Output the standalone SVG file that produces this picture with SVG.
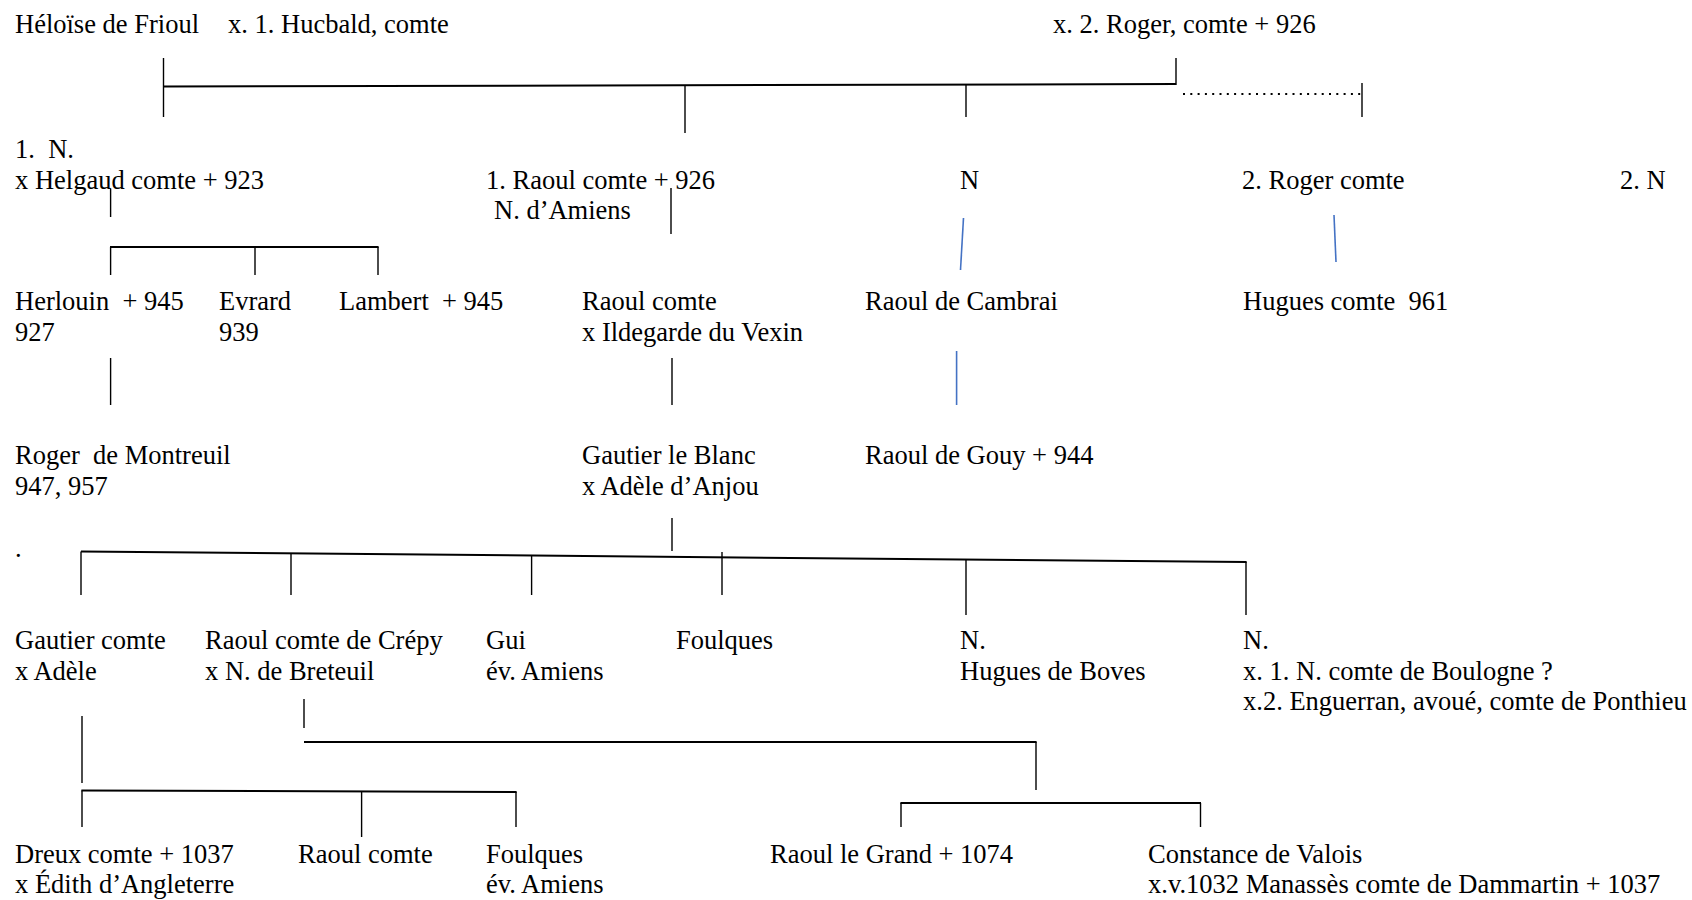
<svg xmlns="http://www.w3.org/2000/svg" width="1692" height="900" viewBox="0 0 1692 900">
<style>
text{font-family:"Liberation Serif","Times New Roman",serif;font-size:26.5px;fill:#000;white-space:pre}
.c line{stroke:#000;stroke-width:1.4;fill:none}
.c line.h{stroke-width:2}
.c line.b{stroke:#4472C4;stroke-width:1.6}
.c line.d{stroke-width:1.8;stroke-dasharray:2 5.3}
</style>
<rect width="1692" height="900" fill="#fff"/>
<g class="c" id="connectors">
<line x1="163.5" y1="58" x2="163.5" y2="117"/>
<line class="h" x1="163.5" y1="86.5" x2="1176" y2="84"/>
<line x1="1176" y1="58" x2="1176" y2="85"/>
<line x1="685" y1="86" x2="685" y2="133"/>
<line x1="966" y1="85" x2="966" y2="117"/>
<line class="d" x1="1183" y1="94" x2="1365" y2="94"/>
<line x1="1362" y1="83" x2="1362" y2="117"/>
<line x1="110.6" y1="189" x2="110.6" y2="217"/>
<line x1="671" y1="188" x2="671" y2="234"/>
<line class="h" x1="110" y1="247" x2="378.6" y2="247"/>
<line x1="110.6" y1="247" x2="110.6" y2="275"/>
<line x1="255" y1="247" x2="255" y2="275"/>
<line x1="378" y1="247" x2="378" y2="275"/>
<line class="b" x1="963.5" y1="218" x2="960.5" y2="270"/>
<line class="b" x1="1334" y1="215" x2="1336" y2="262"/>
<line x1="110.6" y1="358" x2="110.6" y2="405"/>
<line x1="672" y1="358" x2="672" y2="405"/>
<line class="b" x1="956.6" y1="351" x2="956.6" y2="405"/>
<line x1="672" y1="518" x2="672" y2="551"/>
<line class="h" x1="81" y1="551.5" x2="1246.6" y2="562"/>
<line x1="81" y1="551.5" x2="81" y2="595"/>
<line x1="291" y1="553" x2="291" y2="595"/>
<line x1="531.6" y1="555" x2="531.6" y2="595"/>
<line x1="722" y1="552" x2="722" y2="595"/>
<line x1="966" y1="560" x2="966" y2="615"/>
<line x1="1246" y1="562" x2="1246" y2="615"/>
<line x1="304" y1="699" x2="304" y2="728"/>
<line class="h" x1="304" y1="742" x2="1036.6" y2="742"/>
<line x1="1036" y1="742" x2="1036" y2="790"/>
<line x1="82" y1="716" x2="82" y2="783"/>
<line class="h" x1="81.4" y1="790.5" x2="516.6" y2="792"/>
<line x1="82" y1="790.5" x2="82" y2="827"/>
<line x1="361.6" y1="791" x2="361.6" y2="837"/>
<line x1="516" y1="792" x2="516" y2="827"/>
<line class="h" x1="900.4" y1="803" x2="1201" y2="803"/>
<line x1="901" y1="803" x2="901" y2="827"/>
<line x1="1200.5" y1="803" x2="1200.5" y2="827"/>
</g>
<g id="heloise"><text x="15" y="33">Héloïse de Frioul</text></g>
<g id="hucbald"><text x="228" y="33">x. 1. Hucbald, comte</text></g>
<g id="roger-926"><text x="1053" y="33">x. 2. Roger, comte + 926</text></g>
<g id="n-helgaud"><text x="15" y="158">1.  N.</text><text x="15" y="188.5">x Helgaud comte + 923</text></g>
<g id="raoul-926"><text x="486" y="188.5">1. Raoul comte + 926</text><text x="494" y="219">N. d’Amiens</text></g>
<g id="n-cambrai"><text x="960" y="188.5">N</text></g>
<g id="roger-comte"><text x="1242" y="188.5">2. Roger comte</text></g>
<g id="n-2"><text x="1620" y="188.5">2. N</text></g>
<g id="herlouin"><text x="15" y="310">Herlouin  + 945</text><text x="15" y="341">927</text></g>
<g id="evrard"><text x="219" y="310">Evrard</text><text x="219" y="341">939</text></g>
<g id="lambert"><text x="339" y="310">Lambert  + 945</text></g>
<g id="raoul-ildegarde"><text x="582" y="310">Raoul comte</text><text x="582" y="341">x Ildegarde du Vexin</text></g>
<g id="raoul-cambrai"><text x="865" y="310">Raoul de Cambrai</text></g>
<g id="hugues-961"><text x="1243" y="310">Hugues comte  961</text></g>
<g id="roger-montreuil"><text x="15" y="464">Roger  de Montreuil</text><text x="15" y="495">947, 957</text></g>
<g id="gautier-blanc"><text x="582" y="464">Gautier le Blanc</text><text x="582" y="495">x Adèle d’Anjou</text></g>
<g id="raoul-gouy"><text x="865" y="464">Raoul de Gouy + 944</text></g>
<g id="dot"><text x="15" y="557">.</text></g>
<g id="gautier-comte"><text x="15" y="649">Gautier comte</text><text x="15" y="679.5">x Adèle</text></g>
<g id="raoul-crepy"><text x="205" y="649">Raoul comte de Crépy</text><text x="205" y="679.5">x N. de Breteuil</text></g>
<g id="gui"><text x="486" y="649">Gui</text><text x="486" y="679.5">év. Amiens</text></g>
<g id="foulques-1"><text x="676" y="649">Foulques</text></g>
<g id="n-boves"><text x="960" y="649">N.</text><text x="960" y="679.5">Hugues de Boves</text></g>
<g id="n-boulogne"><text x="1243" y="649">N.</text><text x="1243" y="679.5">x. 1. N. comte de Boulogne ?</text><text x="1243" y="710">x.2. Enguerran, avoué, comte de Ponthieu</text></g>
<g id="dreux"><text x="15" y="863">Dreux comte + 1037</text><text x="15" y="893">x Édith d’Angleterre</text></g>
<g id="raoul-comte-2"><text x="298" y="863">Raoul comte</text></g>
<g id="foulques-2"><text x="486" y="863">Foulques</text><text x="486" y="893">év. Amiens</text></g>
<g id="raoul-grand"><text x="770" y="863">Raoul le Grand + 1074</text></g>
<g id="constance"><text x="1148" y="863">Constance de Valois</text><text x="1148" y="893">x.v.1032 Manassès comte de Dammartin + 1037</text></g>
</svg>
